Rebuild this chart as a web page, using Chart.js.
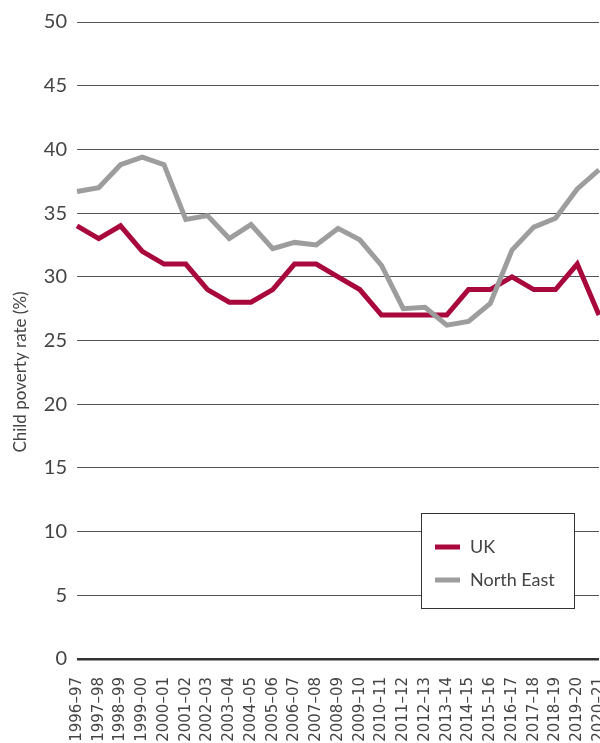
<!DOCTYPE html>
<html>
<head>
<meta charset="utf-8">
<script src="https://cdn.jsdelivr.net/npm/chart.js@4.4.1/dist/chart.umd.min.js"></script>
<style>
  html, body { margin: 0; padding: 0; background: #fff; }
  #wrap { width: 600px; height: 743px; position: relative; }
</style>
</head>
<body>
<div id="wrap"><canvas id="povertyChart"></canvas></div>
<script>
// financial years on the x axis
var years = ['1996–97', '1997–98', '1998–99', '1999–00', '2000–01', '2001–02', '2002–03',
  '2003–04', '2004–05', '2005–06', '2006–07', '2007–08', '2008–09', '2009–10', '2010–11',
  '2011–12', '2012–13', '2013–14', '2014–15', '2015–16', '2016–17', '2017–18', '2018–19',
  '2019–20', '2020–21'];

// child poverty rate, %
var ukRate = [34, 33, 34, 32, 31, 31, 29, 28, 28, 29, 31, 31, 30, 29, 27, 27, 27, 27, 29, 29, 30, 29, 29, 31, 27];
var northEastRate = [36.7, 37.0, 38.8, 39.4, 38.8, 34.5, 34.8, 33.0, 34.1, 32.2, 32.7, 32.5, 33.8, 32.9,
  30.9, 27.5, 27.6, 26.2, 26.5, 27.9, 32.1, 33.9, 34.6, 36.9, 38.4];

var yMin = 0, yMax = 50, yStep = 5;
var yTitle = 'Child poverty rate (%)';

var ukColor = '#a8083c';
var neColor = '#9d9d9d';
var fontName = 'Lato, "DejaVu Sans", sans-serif';
var tickFont = '"DejaVu Sans", Lato, sans-serif';

// legend box drawn inside the plot, bottom right
var boxLegend = {
  id: 'boxLegend',
  afterDraw: function (chart) {
    var ctx = chart.ctx;
    var x = 421, y = 513, w = 153, h = 95;
    ctx.save();
    ctx.fillStyle = '#fff';
    ctx.fillRect(x, y, w, h);
    ctx.strokeStyle = '#333';
    ctx.lineWidth = 1;
    ctx.strokeRect(x + 0.5, y + 0.5, w, h);
    var rows = [chart.data.datasets[1], chart.data.datasets[0]];
    ctx.font = '18px ' + fontName;
    ctx.textBaseline = 'middle';
    rows.forEach(function (ds, i) {
      var cy = y + 34 + i * 33;
      ctx.strokeStyle = ds.borderColor;
      ctx.lineWidth = 5;
      ctx.beginPath();
      ctx.moveTo(x + 14, cy);
      ctx.lineTo(x + 39, cy);
      ctx.stroke();
      ctx.fillStyle = '#444';
      ctx.fillText(ds.label, x + 49, cy);
    });
    ctx.restore();
  }
};

// y axis title, placed a little below the plot centre as in the original
var sideTitle = {
  id: 'sideTitle',
  afterDraw: function (chart) {
    var ctx = chart.ctx;
    ctx.save();
    ctx.translate(21, 372);
    ctx.rotate(-Math.PI / 2);
    ctx.font = '17px ' + fontName;
    ctx.fillStyle = '#444';
    ctx.textAlign = 'center';
    ctx.textBaseline = 'middle';
    ctx.fillText(yTitle, 0, 0);
    ctx.restore();
  }
};

var ctx = document.getElementById('povertyChart').getContext('2d');
var chart = new Chart(ctx, {
  type: 'line',
  data: {
    labels: years,
    datasets: [
      {
        label: 'North East',
        data: northEastRate,
        borderColor: neColor,
        backgroundColor: neColor,
        borderWidth: 5,
        pointRadius: 0,
        tension: 0,
        order: 0
      },
      {
        label: 'UK',
        data: ukRate,
        borderColor: ukColor,
        backgroundColor: ukColor,
        borderWidth: 5,
        pointRadius: 0,
        tension: 0,
        order: 1
      }
    ]
  },
  options: {
    responsive: true,
    maintainAspectRatio: false,
    animation: false,
    layout: { padding: { top: 22, right: 1, left: 0, bottom: 0 } },
    plugins: {
      legend: { display: false },
      tooltip: { enabled: false }
    },
    scales: {
      x: {
        offset: false,
        grid: { display: false },
        border: { display: false },
        ticks: {
          autoSkip: false,
          minRotation: 90,
          maxRotation: 90,
          padding: 10,
          color: '#444',
          font: { family: tickFont, size: 15 }
        },
        afterFit: function (scale) {
          scale.height = 84;
          scale.paddingLeft = 0;
          scale.paddingRight = 0;
        }
      },
      y: {
        min: yMin,
        max: yMax,
        border: { display: false },
        grid: {
          drawTicks: false,
          color: function (c) { return c.tick && c.tick.value === 0 ? '#333' : '#555'; },
          lineWidth: function (c) { return c.tick && c.tick.value === 0 ? 2.5 : 1; }
        },
        ticks: {
          stepSize: yStep,
          padding: 10,
          color: '#444',
          font: { family: fontName, size: 20 }
        },
        afterFit: function (scale) {
          scale.width = 77;
          scale.paddingTop = 0;
          scale.paddingBottom = 0;
        }
      }
    }
  },
  plugins: [boxLegend, sideTitle]
});
</script>
</body>
</html>
